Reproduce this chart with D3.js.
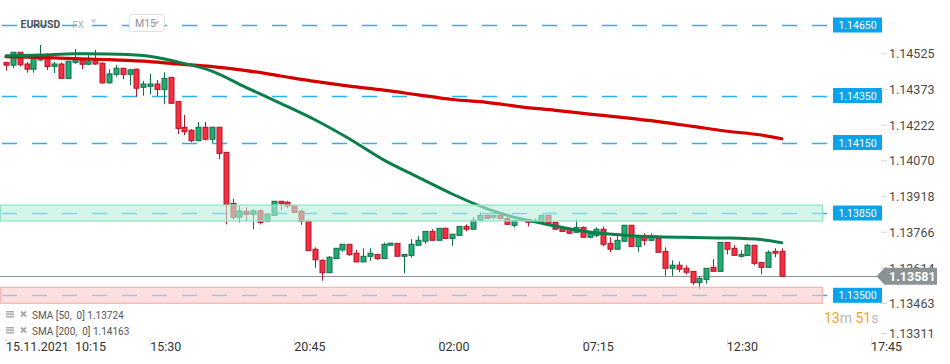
<!DOCTYPE html>
<html><head><meta charset="utf-8">
<script src="https://cdn.jsdelivr.net/npm/d3@7"></script>
<style>
html,body{margin:0;padding:0;background:#fff;}
svg{display:block;font-family:Roboto, "Noto Sans", sans-serif;}
</style></head>
<body><svg id="chart" width="950" height="364"></svg>
<script>
// ---- data ----
const candleOpen = [1.14491,1.14479,1.14534,1.14484,1.14462,1.14501,1.14515,1.14474,1.14484,1.14423,1.14491,1.14502,1.14483,1.14504,1.14487,1.14404,1.14440,1.14466,1.14440,1.14462,1.14385,1.14389,1.14399,1.14376,1.14427,1.14325,1.14215,1.14202,1.14158,1.14215,1.14164,1.14215,1.14108,1.13891,1.13832,1.13857,1.13845,1.13859,1.13815,1.13840,1.13900,1.13896,1.13880,1.13857,1.13815,1.13696,1.13649,1.13596,1.13656,1.13693,1.13717,1.13679,1.13642,1.13666,1.13674,1.13656,1.13713,1.13721,1.13666,1.13670,1.13713,1.13730,1.13772,1.13734,1.13785,1.13742,1.13755,1.13793,1.13781,1.13819,1.13840,1.13832,1.13840,1.13827,1.13798,1.13827,1.13823,1.13810,1.13810,1.13840,1.13810,1.13785,1.13781,1.13768,1.13789,1.13747,1.13755,1.13781,1.13721,1.13696,1.13730,1.13798,1.13708,1.13747,1.13734,1.13742,1.13687,1.13615,1.13628,1.13615,1.13602,1.13554,1.13568,1.13619,1.13602,1.13725,1.13700,1.13666,1.13670,1.13713,1.13640,1.13619,1.13687,1.13687];
const candleHigh = [1.14493,1.14534,1.14534,1.14493,1.14507,1.14565,1.14531,1.14493,1.14491,1.14497,1.14548,1.14505,1.14530,1.14544,1.14491,1.14462,1.14480,1.14467,1.14464,1.14464,1.14412,1.14442,1.14416,1.14449,1.14430,1.14325,1.14267,1.14207,1.14237,1.14237,1.14215,1.14215,1.14108,1.13910,1.13880,1.13874,1.13867,1.13867,1.13846,1.13901,1.13901,1.13901,1.13880,1.13866,1.13823,1.13704,1.13653,1.13667,1.13700,1.13717,1.13717,1.13693,1.13700,1.13700,1.13674,1.13724,1.13722,1.13721,1.13674,1.13739,1.13752,1.13772,1.13781,1.13785,1.13788,1.13760,1.13793,1.13802,1.13832,1.13853,1.13840,1.13840,1.13849,1.13836,1.13819,1.13832,1.13823,1.13827,1.13840,1.13840,1.13810,1.13785,1.13789,1.13823,1.13793,1.13764,1.13789,1.13793,1.13747,1.13764,1.13798,1.13798,1.13751,1.13764,1.13764,1.13742,1.13704,1.13649,1.13644,1.13628,1.13602,1.13581,1.13615,1.13654,1.13725,1.13725,1.13713,1.13691,1.13719,1.13713,1.13640,1.13691,1.13700,1.13700];
const candleLow = [1.14456,1.14466,1.14473,1.14447,1.14447,1.14497,1.14459,1.14446,1.14420,1.14420,1.14484,1.14462,1.14480,1.14480,1.14400,1.14400,1.14430,1.14419,1.14393,1.14345,1.14349,1.14355,1.14348,1.14313,1.14313,1.14186,1.14181,1.14151,1.14155,1.14159,1.14149,1.14079,1.13802,1.13823,1.13810,1.13815,1.13781,1.13802,1.13812,1.13840,1.13862,1.13870,1.13851,1.13800,1.13688,1.13617,1.13562,1.13594,1.13656,1.13685,1.13668,1.13642,1.13642,1.13647,1.13651,1.13656,1.13713,1.13666,1.13593,1.13660,1.13713,1.13719,1.13734,1.13734,1.13742,1.13711,1.13755,1.13772,1.13781,1.13813,1.13827,1.13823,1.13823,1.13802,1.13789,1.13819,1.13793,1.13810,1.13810,1.13806,1.13781,1.13772,1.13760,1.13768,1.13747,1.13742,1.13747,1.13708,1.13683,1.13696,1.13730,1.13708,1.13685,1.13713,1.13730,1.13683,1.13583,1.13583,1.13598,1.13589,1.13544,1.13527,1.13549,1.13602,1.13602,1.13674,1.13670,1.13660,1.13670,1.13628,1.13589,1.13619,1.13662,1.13581];
const candleClose = [1.14479,1.14534,1.14481,1.14462,1.14507,1.14508,1.14473,1.14484,1.14423,1.14496,1.14505,1.14483,1.14497,1.14484,1.14404,1.14442,1.14466,1.14440,1.14459,1.14381,1.14399,1.14399,1.14376,1.14423,1.14317,1.14210,1.14196,1.14158,1.14215,1.14164,1.14215,1.14104,1.13887,1.13832,1.13859,1.13845,1.13859,1.13810,1.13846,1.13900,1.13891,1.13880,1.13853,1.13815,1.13690,1.13651,1.13596,1.13662,1.13700,1.13717,1.13673,1.13642,1.13666,1.13679,1.13656,1.13717,1.13722,1.13666,1.13674,1.13717,1.13734,1.13772,1.13734,1.13785,1.13742,1.13760,1.13793,1.13781,1.13819,1.13840,1.13827,1.13840,1.13827,1.13802,1.13819,1.13819,1.13810,1.13819,1.13840,1.13806,1.13781,1.13772,1.13764,1.13789,1.13747,1.13764,1.13781,1.13717,1.13696,1.13734,1.13798,1.13708,1.13751,1.13734,1.13747,1.13683,1.13615,1.13628,1.13611,1.13598,1.13554,1.13572,1.13615,1.13602,1.13725,1.13696,1.13670,1.13674,1.13713,1.13636,1.13619,1.13683,1.13679,1.13581];

const smaIdx    = [0,5,10,15,20,25,30,35,40,45,50,55,60,65,70,75,80,85,90,95,100,105,110,113];
const sma50Vals = [1.14519,1.14522,1.14528,1.14527,1.14520,1.14493,1.14454,1.14384,1.14317,1.14247,1.14166,1.14076,1.14003,1.13931,1.13869,1.13825,1.13795,1.13769,1.13756,1.13749,1.13746,1.13744,1.13737,1.13724];
const sma200Vals= [1.14515,1.14512,1.14507,1.14503,1.14496,1.14484,1.14473,1.14456,1.14433,1.14410,1.14390,1.14373,1.14353,1.14333,1.14321,1.14302,1.14287,1.14271,1.14256,1.14239,1.14219,1.14198,1.14182,1.14166];

const levelLines = [1.14650,1.14350,1.14150,1.13850,1.13500];
const zoneGreen = [1.13816,1.13884];
const zoneRed = [1.13466,1.13534];
const lastPrice = 1.13581;
const priceTicks = [1.14525,1.14373,1.14222,1.14070,1.13918,1.13766,1.13614,1.13463,1.13311];
const timeTickIdx = [0,21,42,63,84,105,126];
const timeTickLabels = ["15.11.2021  10:15","15:30","20:45","02:00","07:15","12:30","17:45"];
const legendLabels = ["SMA [50,  0] 1.13724","SMA [200,  0] 1.14163"];

// ---- scales ----
const svg = d3.select("#chart");
const x = d3.scaleLinear().domain([0,126]).range([6,871]);
const y = d3.scaleLinear().domain([1.13500,1.14650]).range([295.3,25]);
const fmt = d3.format(".5f");

svg.append("rect").attr("width",950).attr("height",364).attr("fill","#fff");

// level dashed lines
svg.append("g").selectAll("line").data(levelLines).join("line")
  .attr("x1",2).attr("x2",828)
  .attr("y1",d=>Math.round(y(d))+0.5).attr("y2",d=>Math.round(y(d))+0.5)
  .attr("stroke","#2cb0f0").attr("stroke-width",1.3).attr("stroke-dasharray","15,15");

// current price line
svg.append("line").attr("x1",0).attr("x2",877)
  .attr("y1",Math.round(y(lastPrice))+0.5).attr("y2",Math.round(y(lastPrice))+0.5)
  .attr("stroke","#8a9396").attr("stroke-width",1.2);

// candles
const candles = candleOpen.map((o,i)=>({i,o,h:candleHigh[i],l:candleLow[i],c:candleClose[i]}));
const cg = svg.append("g");
cg.selectAll("line").data(candles).join("line")
  .attr("x1",d=>Math.round(x(d.i))+0.5).attr("x2",d=>Math.round(x(d.i))+0.5)
  .attr("y1",d=>y(d.h)).attr("y2",d=>y(d.l))
  .attr("stroke",d=>d.c>=d.o?"#0d7048":"#b0172c").attr("stroke-width",1);
cg.selectAll("rect").data(candles).join("rect")
  .attr("x",d=>Math.round(x(d.i))-2)
  .attr("width",5)
  .attr("y",d=>Math.min(y(d.o),y(d.c)))
  .attr("height",d=>Math.max(1.5,Math.abs(y(d.o)-y(d.c))))
  .attr("fill",d=>d.c>=d.o?"#22aa72":"#f2303f")
  .attr("stroke",d=>d.c>=d.o?"#0d7048":"#b0172c").attr("stroke-width",1);

// SMA lines
const lineGen = d3.line().x(d=>x(d[0])).y(d=>y(d[1])).curve(d3.curveMonotoneX);
svg.append("path").attr("d",lineGen(smaIdx.map((k,j)=>[k,sma200Vals[j]])))
  .attr("fill","none").attr("stroke","#d40000").attr("stroke-width",3.2).attr("stroke-linecap","round");
svg.append("path").attr("d",lineGen(smaIdx.map((k,j)=>[k,sma50Vals[j]])))
  .attr("fill","none").attr("stroke","#0a7f4c").attr("stroke-width",3).attr("stroke-linecap","round");

// zones
[[zoneGreen,"#b9eedb","#8fe2c4"],[zoneRed,"#fbcaca","#f6b3b3"]].forEach(([z,f,s])=>{
  svg.append("rect").attr("x",0.5).attr("width",822)
    .attr("y",y(z[1])).attr("height",y(z[0])-y(z[1]))
    .attr("fill",f).attr("fill-opacity",0.6).attr("stroke",s).attr("stroke-width",1.2);
});

// level labels
const lg = svg.append("g");
lg.selectAll("rect").data(levelLines).join("rect")
  .attr("x",833).attr("width",49).attr("y",d=>y(d)-7.5).attr("height",15)
  .attr("fill","#0ba4ea");
lg.selectAll("text").data(levelLines).join("text")
  .attr("x",857.5).attr("y",d=>y(d)+4).attr("text-anchor","middle")
  .attr("fill","#fff").attr("font-size","10.5px").text(d=>fmt(d));

// right axis
const ra = svg.append("g");
ra.selectAll("line").data(priceTicks).join("line")
  .attr("x1",881).attr("x2",887).attr("y1",d=>Math.min(y(d),334)-0.5).attr("y2",d=>Math.min(y(d),334)-0.5)
  .attr("stroke","#d6d6d6");
ra.selectAll("text").data(priceTicks).join("text")
  .attr("x",889).attr("y",d=>Math.min(y(d),334)+4)
  .attr("fill","#4a4a4a").attr("font-size","12.5px").text(d=>fmt(d));

// last price tag
const ty = y(lastPrice);
svg.append("path")
  .attr("d",`M876.5,${ty} L884.5,${ty-8.5} L937,${ty-8.5} L937,${ty+8.5} L884.5,${ty+8.5} Z`)
  .attr("fill","#8a9497");
svg.append("text").attr("x",889).attr("y",ty+4.5).attr("fill","#fff")
  .attr("font-size","12.5px").attr("font-weight","bold").text(fmt(lastPrice));

// countdown
const cd = svg.append("text").attr("x",824).attr("y",323).attr("font-size","14px");
cd.append("tspan").attr("fill","#f5a11c").text("13");
cd.append("tspan").attr("fill","#b7b7b7").text("m ");
cd.append("tspan").attr("fill","#f5a11c").text("51");
cd.append("tspan").attr("fill","#b7b7b7").text("s");

// time axis
const ta = svg.append("g");
ta.selectAll("line").data(timeTickIdx).join("line")
  .attr("x1",d=>Math.round(x(d))+0.5).attr("x2",d=>Math.round(x(d))+0.5)
  .attr("y1",338).attr("y2",346).attr("stroke","#e2e2e2");
ta.selectAll("text").data(timeTickIdx).join("text")
  .attr("x",d=>x(d)).attr("y",351).attr("fill","#333").attr("font-size","12.5px")
  .style("white-space","pre").text((d,i)=>timeTickLabels[i]);

// header
svg.append("text").attr("x",20.5).attr("y",28).attr("font-size","10.5px").attr("font-weight","bold")
  .attr("fill","#4d5358").text("EURUSD");
svg.append("text").attr("x",72.5).attr("y",28).attr("font-size","9.5px").attr("fill","#a3acb4").text("FX");
svg.append("path").attr("d","M90.5,19.5 L96.5,19.5 L93.5,23 Z").attr("fill","#c3c8cc");
svg.append("rect").attr("x",129.5).attr("y",14.5).attr("width",35).attr("height",17).attr("rx",3)
  .attr("fill","#fff").attr("stroke","#e0e0e0");
svg.append("text").attr("x",135).attr("y",27).attr("font-size","10.5px").attr("fill","#8a9299").text("M15");
svg.append("path").attr("d","M153.5,21.5 L159.5,21.5 L156.5,24.5 Z").attr("fill","#b3b9be");

// legend
const leg = svg.append("g");
legendLabels.forEach((t,i)=>{
  const by = 319 + i*16;
  for(let k=0;k<3;k++){
    leg.append("rect").attr("x",6).attr("y",by-8+k*2.5).attr("width",8).attr("height",1.5).attr("fill","#a8a8a8");
  }
  leg.append("path").attr("d",`M21,${by-7.5} L26,${by-2.5} M26,${by-7.5} L21,${by-2.5}`)
    .attr("stroke","#a8a8a8").attr("stroke-width",1.8);
  leg.append("text").attr("x",32).attr("y",by).attr("font-size","10px").attr("fill","#555")
    .style("white-space","pre").text(t);
});
</script>
</body></html>
